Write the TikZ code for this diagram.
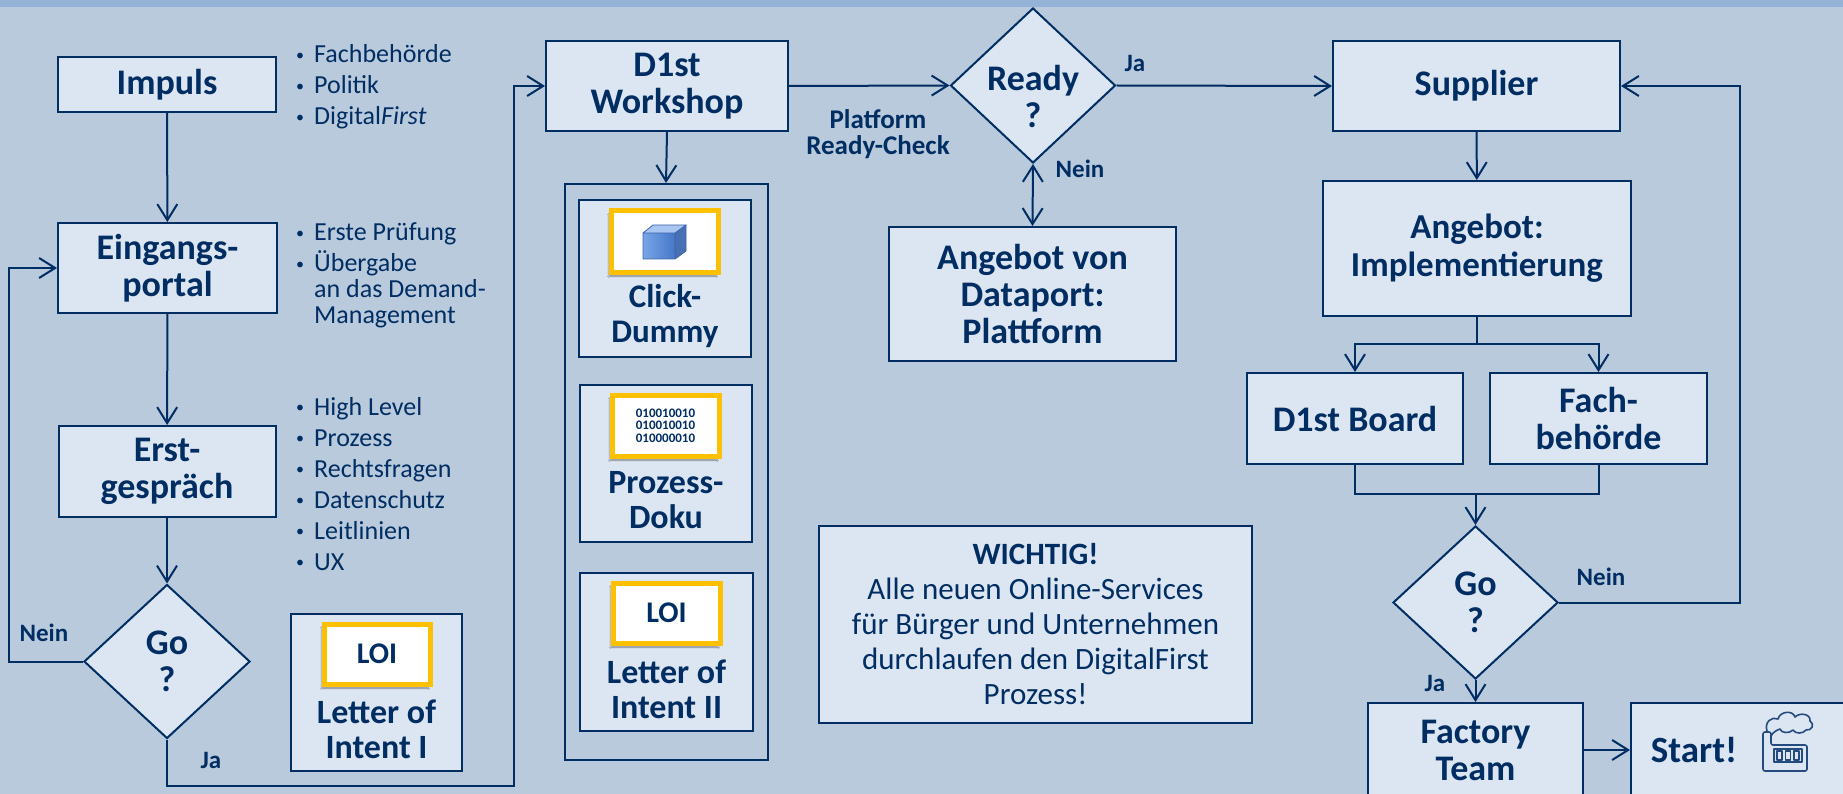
\documentclass[tikz,border=0pt]{standalone}
\usepackage{fontspec}
\setmainfont{Carlito}
\usetikzlibrary{shapes.geometric,arrows.meta,shadows.blur}
\definecolor{navy}{RGB}{0,45,98}
\definecolor{bgc}{RGB}{185,202,221}
\definecolor{band}{RGB}{149,179,215}
\definecolor{boxf}{RGB}{220,230,242}
\definecolor{gold}{RGB}{255,192,0}
\definecolor{iconc}{RGB}{36,74,126}
\definecolor{cubeA}{RGB}{120,165,230}
\definecolor{cubeB}{RGB}{70,120,200}
\definecolor{cubeT}{RGB}{170,198,240}
\definecolor{cubeS}{RGB}{72,112,180}
\definecolor{cubeL}{RGB}{60,100,170}
\tikzset{
  box/.style={draw=navy, line width=2pt, fill=boxf, text=navy, font=\bfseries\fontsize{36}{37}\selectfont, align=center, inner sep=0pt},
  cont/.style={draw=navy, line width=2pt, inner sep=0pt},
  dia/.style={diamond, draw=navy, line width=2pt, fill=boxf, text=navy, font=\bfseries\fontsize{36}{37}\selectfont, align=center, inner sep=0pt, minimum width=166pt, minimum height=154pt},
  arr/.style={draw=navy, line width=2pt, -{Straight Barb[length=16pt,width=20pt,line width=2pt]}},
  ln/.style={draw=navy, line width=2pt},
  lab/.style={text=navy, font=\bfseries\fontsize{25}{26}\selectfont, inner sep=0pt, align=center},
  bul/.style={text=navy, font=\fontsize{26}{31}\selectfont, inner sep=0pt, anchor=base west},
  badge/.style={draw=gold, line width=5pt, fill=white, inner sep=0pt, text=navy, font=\bfseries\fontsize{30}{30}\selectfont, blur shadow={shadow xshift=-2pt, shadow yshift=-4pt, shadow opacity=45}},
  intxt/.style={text=navy, font=\bfseries\fontsize{34}{35}\selectfont, align=center, inner sep=0pt},
}
\newcommand{\bl}{\makebox[19pt][l]{\hspace{1pt}\raisebox{2.5pt}{\fontsize{16}{16}\selectfont\textbullet}}}
\begin{document}
\begin{tikzpicture}[x=1pt,y=-1pt]
\useasboundingbox (0,0) rectangle (1843,794);
\clip (0,0) rectangle (1843,794);
\fill[bgc] (0,0) rectangle (1843,794);
\fill[band] (0,0) rectangle (1843,7);

% left column
\node[box, minimum width=218pt, minimum height=55pt] (impuls) at (167,84.5) {Impuls};
\node[box, minimum width=219pt, minimum height=90pt] (eingang) at (167.5,268) {Eingangs-\\portal};
\node[box, minimum width=217pt, minimum height=91pt] (erst) at (167,471.5) {Erst-\\gespräch};
\node[dia] (go1) at (167,661.5) {Go\\?};

% bullets
\node[bul] (i1) at (295,63) {\bl Fachbehörde};
\node[bul] (i2) at (295,94) {\bl Politik};
\node[bul] (i3) at (295,125) {\bl Digital\textit{First}};
\node[bul] (e1) at (295,241) {\bl Erste Prüfung};
\node[bul] (e2) at (295,272) {\bl Übergabe};
\node[bul] (e3) at (314,297) {an das Demand-};
\node[bul] (e4) at (314,323) {Management};
\node[bul] (h1) at (295,415) {\bl High Level};
\node[bul] (h2) at (295,446) {\bl Prozess};
\node[bul] (h3) at (295,477) {\bl Rechtsfragen};
\node[bul] (h4) at (295,508) {\bl Datenschutz};
\node[bul] (h5) at (295,539) {\bl Leitlinien};
\node[bul] (h6) at (295,570) {\bl UX};

% LOI I
\node[box, minimum width=171pt, minimum height=157pt] (loi1) at (376.5,692.5) {};
\node[badge, minimum width=106pt, minimum height=60pt] (loi1b) at (377,654) {LOI};
\node[intxt] (loi1t) at (376.5,729) {Letter of\\Intent I};

% workshop column
\node[box, minimum width=242pt, minimum height=90pt] (ws) at (667,86) {D1st\\Workshop};
\node[cont, minimum width=203pt, minimum height=576pt] (cont) at (666,472) {};
\node[box, minimum width=172pt, minimum height=157pt] (click) at (665,278.5) {};
\node[badge, minimum width=107pt, minimum height=61pt] (clickb) at (664.5,241.5) {};
\node[intxt, font=\bfseries\fontsize{33}{35}\selectfont] (clickt) at (665,316) {Click-\\Dummy};
\node[box, minimum width=172pt, minimum height=157pt] (proz) at (666,463.5) {};
\node[badge, minimum width=107pt, minimum height=61pt, font=\bfseries\fontsize{13}{12.5}\selectfont, align=center] (prozb) at (665.5,425.5) {010010010\\010010010\\010000010};
\node[intxt] (prozt) at (666,500) {Prozess-\\Doku};
\node[box, minimum width=173pt, minimum height=158pt] (loi2) at (666.5,652) {};
\node[badge, minimum width=107pt, minimum height=60pt] (loi2b) at (666.5,613) {LOI};
\node[intxt] (loi2t) at (666.5,689) {Letter of\\Intent II};

% cube icon
\fill[left color=cubeA, right color=cubeB] (643,233) rectangle (675,259);
\fill[cubeT] (643,233) -- (653,225) -- (686,225) -- (675,233) -- cycle;
\fill[cubeS] (675,233) -- (686,225) -- (686,251) -- (675,259) -- cycle;
\draw[cubeL, line width=0.8pt] (643,233) rectangle (675,259) (643,233) -- (653,225) -- (686,225) -- (675,233) (686,225) -- (686,251) -- (675,259);

% ready / platform
\node[dia, minimum width=165pt, minimum height=155pt] (ready) at (1033,85.5) {};
\node[text=navy, font=\bfseries\fontsize{36}{37}\selectfont, align=center, inner sep=0pt] (readyt) at (1033,96) {Ready\\?};
\node[lab, font=\bfseries\fontsize{27}{26}\selectfont] (plat) at (878,134) {Platform\\Ready-Check};
\node[box, minimum width=287pt, minimum height=134pt] (angd) at (1032.5,294) {Angebot von\\Dataport:\\Plattform};

% wichtig
\node[box, minimum width=433pt, minimum height=197pt, font=\fontsize{31}{35}\selectfont] (wichtig) at (1035.5,624.5) {\textbf{WICHTIG!}\\Alle neuen Online-Services\\für Bürger und Unternehmen\\durchlaufen den DigitalFirst\\Prozess!};

% right column
\node[box, minimum width=287pt, minimum height=90pt] (supp) at (1476.5,86) {Supplier};
\node[box, minimum width=308pt, minimum height=135pt, font=\bfseries\fontsize{35}{38}\selectfont] (angi) at (1477,248.5) {Angebot:\\Implementierung};
\node[box, minimum width=216pt, minimum height=91pt] (board) at (1355,418.5) {D1st Board};
\node[box, minimum width=217pt, minimum height=91pt] (fach) at (1598.5,418.5) {Fach-\\behörde};
\node[dia, minimum width=165pt, minimum height=153pt] (go2) at (1475.5,602.5) {Go\\?};
\node[box, minimum width=215pt, minimum height=94pt] (fact) at (1475.5,750) {Factory\\Team};
\node[box, minimum width=240pt, minimum height=94pt] (start) at (1751,750) {};
\node[intxt, font=\bfseries\fontsize{37}{37}\selectfont] (startt) at (1694,750) {Start!};

% factory icon
\begin{scope}[draw=iconc, line width=1.6pt, line join=round]
\draw[rounded corners=2pt] (1763,771) -- (1763,732) -- (1771,732) -- (1771,745) -- (1807,745) -- (1807,771) -- cycle;
\draw (1774,749) rectangle (1802,762);
\draw (1777,751) rectangle (1782,760) (1785.5,751) rectangle (1790.5,760) (1794,751) rectangle (1799,760);
\draw (1767,731) .. controls (1764,722) and (1772,716) .. (1778,719) .. controls (1780,711) and (1793,710) .. (1795,717) .. controls (1800,712) and (1811,714) .. (1810,721) .. controls (1815,724) and (1812,731) .. (1806,730) .. controls (1803,734) and (1795,734) .. (1793,730) .. controls (1789,734) and (1781,733) .. (1780,729) .. controls (1777,730) and (1773,732) .. (1771,736);
\end{scope}

% connectors
\draw[arr] (impuls) -- (eingang);
\draw[arr] (eingang) -- (erst);
\draw[arr] (erst) -- (go1);
\coordinate (nl) at (9,661.5);
\draw[arr] (go1.west) -- (nl) |- (eingang.west);
\coordinate (jl) at (514,786);
\draw[arr] (go1.south) |- (jl) |- (ws.west);
\draw[arr] (ws.south) -- (cont.north);
\draw[arr] (ws.east) -- (ready.west);
\draw[arr] (ready.east) -- (supp.west);
\draw[arr, {Straight Barb[length=16pt,width=20pt,line width=2pt]}-{Straight Barb[length=16pt,width=20pt,line width=2pt]}] (ready.south) -- (angd.north);
\draw[arr] (supp) -- (angi);
\coordinate (sp) at (1477,344);
\draw[ln] (angi.south) -- (sp);
\draw[arr] (sp) -| (board.north);
\draw[arr] (sp) -| (fach.north);
\coordinate (mg) at (1475.5,494);
\draw[ln] (board.south) |- (mg) -| (fach.south);
\draw[arr] (mg) -- (go2.north);
\draw[arr] (go2.south) -- (fact.north);
\coordinate (rl) at (1740,602.5);
\draw[arr] (go2.east) -- (rl) |- (supp.east);
\draw[arr] (fact.east) -- (start.west);

% labels
\node[lab] (n1) at (44,633) {Nein};
\node[lab] (j1) at (211,760) {Ja};
\node[lab] (j2) at (1135,63) {Ja};
\node[lab] (n2) at (1080,169) {Nein};
\node[lab] (n3) at (1601,577) {Nein};
\node[lab] (j3) at (1435,683) {Ja};
\end{tikzpicture}
\end{document}
